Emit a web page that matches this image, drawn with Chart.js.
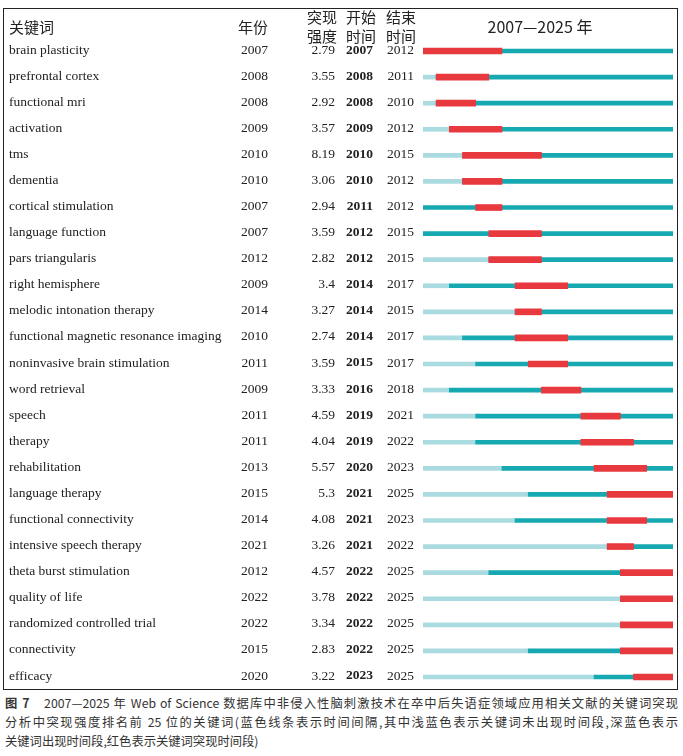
<!DOCTYPE html>
<html><head><meta charset="utf-8">
<script src="https://cdn.jsdelivr.net/npm/chart.js@4/dist/chart.umd.min.js"></script>
<style>
body{margin:0;background:#fff;width:683px;height:756px;overflow:hidden;font-family:"Liberation Serif",serif}
#box{position:absolute;left:3px;top:8px;width:675px;height:682px;border:1.5px solid #222;box-sizing:border-box}
#wrap{position:absolute;left:0;top:0;width:683px;height:690px}
.cap{position:absolute;left:5px;width:673px;font-family:"Noto Sans CJK SC",sans-serif;font-size:12.3px;color:#333;text-align:justify;text-align-last:justify;line-height:19px;white-space:nowrap}
</style></head><body>
<div id="box"></div>
<div id="wrap"><canvas id="c" width="683" height="690" style="width:683px;height:690px"></canvas></div>
<div class="cap" style="top:694px"><b>图 7</b>　2007—2025 年 Web of Science 数据库中非侵入性脑刺激技术在卒中后失语症领域应用相关文献的关键词突现</div>
<div class="cap" style="top:713px">分析中突现强度排名前 25 位的关键词(蓝色线条表示时间间隔,其中浅蓝色表示关键词未出现时间段,深蓝色表示</div>
<div class="cap" style="top:732px;text-align-last:left">关键词出现时间段,红色表示关键词突现时间段)</div>
<script>
const keywords=["brain plasticity","prefrontal cortex","functional mri","activation","tms","dementia","cortical stimulation","language function","pars triangularis","right hemisphere","melodic intonation therapy","functional magnetic resonance imaging","noninvasive brain stimulation","word retrieval","speech","therapy","rehabilitation","language therapy","functional connectivity","intensive speech therapy","theta burst stimulation","quality of life","randomized controlled trial","connectivity","efficacy"];
const years=[2007,2008,2008,2009,2010,2010,2007,2007,2012,2009,2014,2010,2011,2009,2011,2011,2013,2015,2014,2021,2012,2022,2022,2015,2020];
const strengths=["2.79","3.55","2.92","3.57","8.19","3.06","2.94","3.59","2.82","3.4","3.27","2.74","3.59","3.33","4.59","4.04","5.57","5.3","4.08","3.26","4.57","3.78","3.34","2.83","3.22"];
const begins=[2007,2008,2008,2009,2010,2010,2011,2012,2012,2014,2014,2014,2015,2016,2019,2019,2020,2021,2021,2021,2022,2022,2022,2022,2023];
const ends=[2012,2011,2010,2012,2015,2012,2012,2015,2015,2017,2015,2017,2017,2018,2021,2022,2023,2025,2023,2022,2025,2025,2025,2025,2025];
const START=2007, END=2026;
const light=keywords.map((k,i)=>[START,years[i]]);
const dark=keywords.map((k,i)=>[years[i],END]);
const red=keywords.map((k,i)=>[begins[i],ends[i]+1]);
const textPlugin={id:'txt',afterDraw(ch){
 const c=ch.ctx,y=ch.scales.y;c.save();c.fillStyle='#222';
 c.font='15px "Noto Sans CJK SC"';c.textBaseline='middle';
 c.textAlign='left';c.fillText('关键词',9,27);
 c.textAlign='right';c.fillText('年份',268,27);
 c.fillText('突现',337,17);c.fillText('强度',337,36);
 c.fillText('开始',376,17);c.fillText('时间',376,36);
 c.fillText('结束',416,17);c.fillText('时间',416,36);
 c.textAlign='center';c.font='16px "Noto Sans CJK SC"';c.fillText('2007—2025 年',540,27);
 keywords.forEach((k,i)=>{const p=y.getPixelForValue(i)-1;
  c.font='13.5px "Liberation Serif"';c.textAlign='left';c.fillText(k,9,p);
  c.textAlign='right';c.fillText(String(years[i]),268,p);c.fillText(strengths[i],335,p);
  c.fillText(String(ends[i]),414,p);
  c.font='bold 13.5px "Liberation Serif"';c.fillText(String(begins[i]),373,p);});
 c.restore();}};
new Chart(document.getElementById('c'),{type:'bar',
 data:{labels:keywords,datasets:[
  {data:light,backgroundColor:'#a9dbe0',barThickness:4,grouped:false,order:3},
  {data:dark,backgroundColor:'#17a9b1',barThickness:4,grouped:false,order:2},
  {data:red,backgroundColor:'#e8393f',barThickness:6,grouped:false,order:1}]},
 options:{indexAxis:'y',responsive:false,animation:false,devicePixelRatio:1,
  layout:{padding:{left:423,right:10,top:38,bottom:0}},
  plugins:{legend:{display:false},tooltip:{enabled:false}},
  scales:{x:{type:'linear',min:START,max:END,display:false},y:{display:false}}},
 plugins:[textPlugin]});
</script></body></html>
